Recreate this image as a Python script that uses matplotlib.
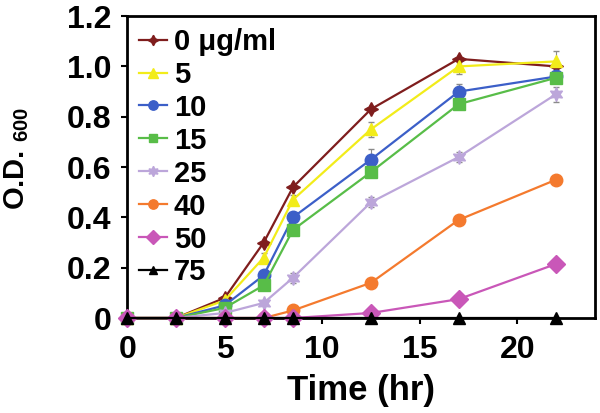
"""
Growth curves (O.D. 600) at different drug concentrations
"""
import matplotlib
matplotlib.use('Agg')
import matplotlib.pyplot as plt

plt.rcParams['font.family'] = ['Liberation Sans', 'DejaVu Sans']
plt.rcParams['font.weight'] = 'bold'
plt.rcParams['mathtext.default'] = 'regular'

# Sampling times (hr)
time_hr = [0, 2.5, 5, 7, 8.5, 12.5, 17, 22]

# O.D. 600 readings per concentration
od_0 = [0, 0, 0.08, 0.30, 0.52, 0.83, 1.03, 1.00]
od_5 = [0, 0, 0.07, 0.24, 0.47, 0.75, 1.00, 1.02]
od_10 = [0, 0, 0.05, 0.17, 0.40, 0.63, 0.90, 0.96]
od_15 = [0, 0, 0.04, 0.13, 0.35, 0.58, 0.85, 0.955]
od_25 = [0, 0, 0.02, 0.06, 0.16, 0.46, 0.64, 0.89]
od_40 = [0, 0, 0, 0, 0.03, 0.14, 0.39, 0.55]
od_50 = [0, 0, 0, 0, 0, 0.02, 0.075, 0.215]
od_75 = [0, 0, 0, 0, 0, 0, 0, 0]

# small standard errors (only visible on a few points)
err_5 = [0, 0, 0, 0.02, 0.02, 0.03, 0.03, 0.04]
err_10 = [0, 0, 0, 0.02, 0.02, 0.04, 0.03, 0.02]
err_25 = [0, 0, 0, 0.01, 0.02, 0.02, 0.02, 0.03]

labels = ['0 \u03bcg/ml', '5', '10', '15', '25', '40', '50', '75']
colors = ['#7f1d1d', '#f2ec1a', '#3c5fc8', '#58bd48', '#bca6da', '#f47a2e', '#c957b8', '#000000']
markers = [(4, 1, 0), '^', 'o', 's', (6, 1, 0), 'o', 'D', '^']
sizes = [10, 9, 9, 8, 10, 9, 9, 8]

series = [od_0, od_5, od_10, od_15, od_25, od_40, od_50, od_75]
errors = [None, err_5, err_10, None, err_25, None, None, None]

fig = plt.figure(figsize=(6.0, 4.13), dpi=100)
ax = fig.add_axes([0.212, 0.230, 0.780, 0.731])

for i in range(len(series)):
    if errors[i] is not None:
        ax.errorbar(time_hr, series[i], yerr=errors[i], fmt='none',
                    ecolor='#8a8a8a', elinewidth=0.8, capsize=2, zorder=2)
    ax.plot(time_hr, series[i], color=colors[i], marker=markers[i],
            markersize=sizes[i], linewidth=1.6, label=labels[i],
            clip_on=False, zorder=3 + i * 0.01)

ax.set_xlim(0, 24)
ax.set_ylim(0, 1.2)
ax.set_xticks([0, 5, 10, 15, 20])
ax.set_yticks([0, 0.2, 0.4, 0.6, 0.8, 1.0, 1.2])
ax.set_yticklabels(['0', '0.2', '0.4', '0.6', '0.8', '1.0', '1.2'])
ax.tick_params(direction='out', length=4.5, width=1.5, labelsize=23)
ax.tick_params(axis='x', pad=8)
ax.tick_params(axis='y', pad=7)
for lab in ax.get_xticklabels() + ax.get_yticklabels():
    lab.set_fontweight('bold')

for sp in ax.spines.values():
    sp.set_linewidth(2)

ax.set_xlabel('Time (hr)', fontsize=25, fontweight='bold', labelpad=6)
ax.set_ylabel('O.D. $_{600}$', fontsize=21, fontweight='bold')
ax.yaxis.set_label_coords(-0.205, 0.53)

leg = ax.legend(loc='upper left', frameon=False, fontsize=21,
                handlelength=0.95, handletextpad=0.25, labelspacing=0.17,
                borderaxespad=0.3, borderpad=0.1, markerscale=0.75)
for t in leg.get_texts():
    t.set_fontweight('bold')

fig.savefig('out.png', dpi=100)
